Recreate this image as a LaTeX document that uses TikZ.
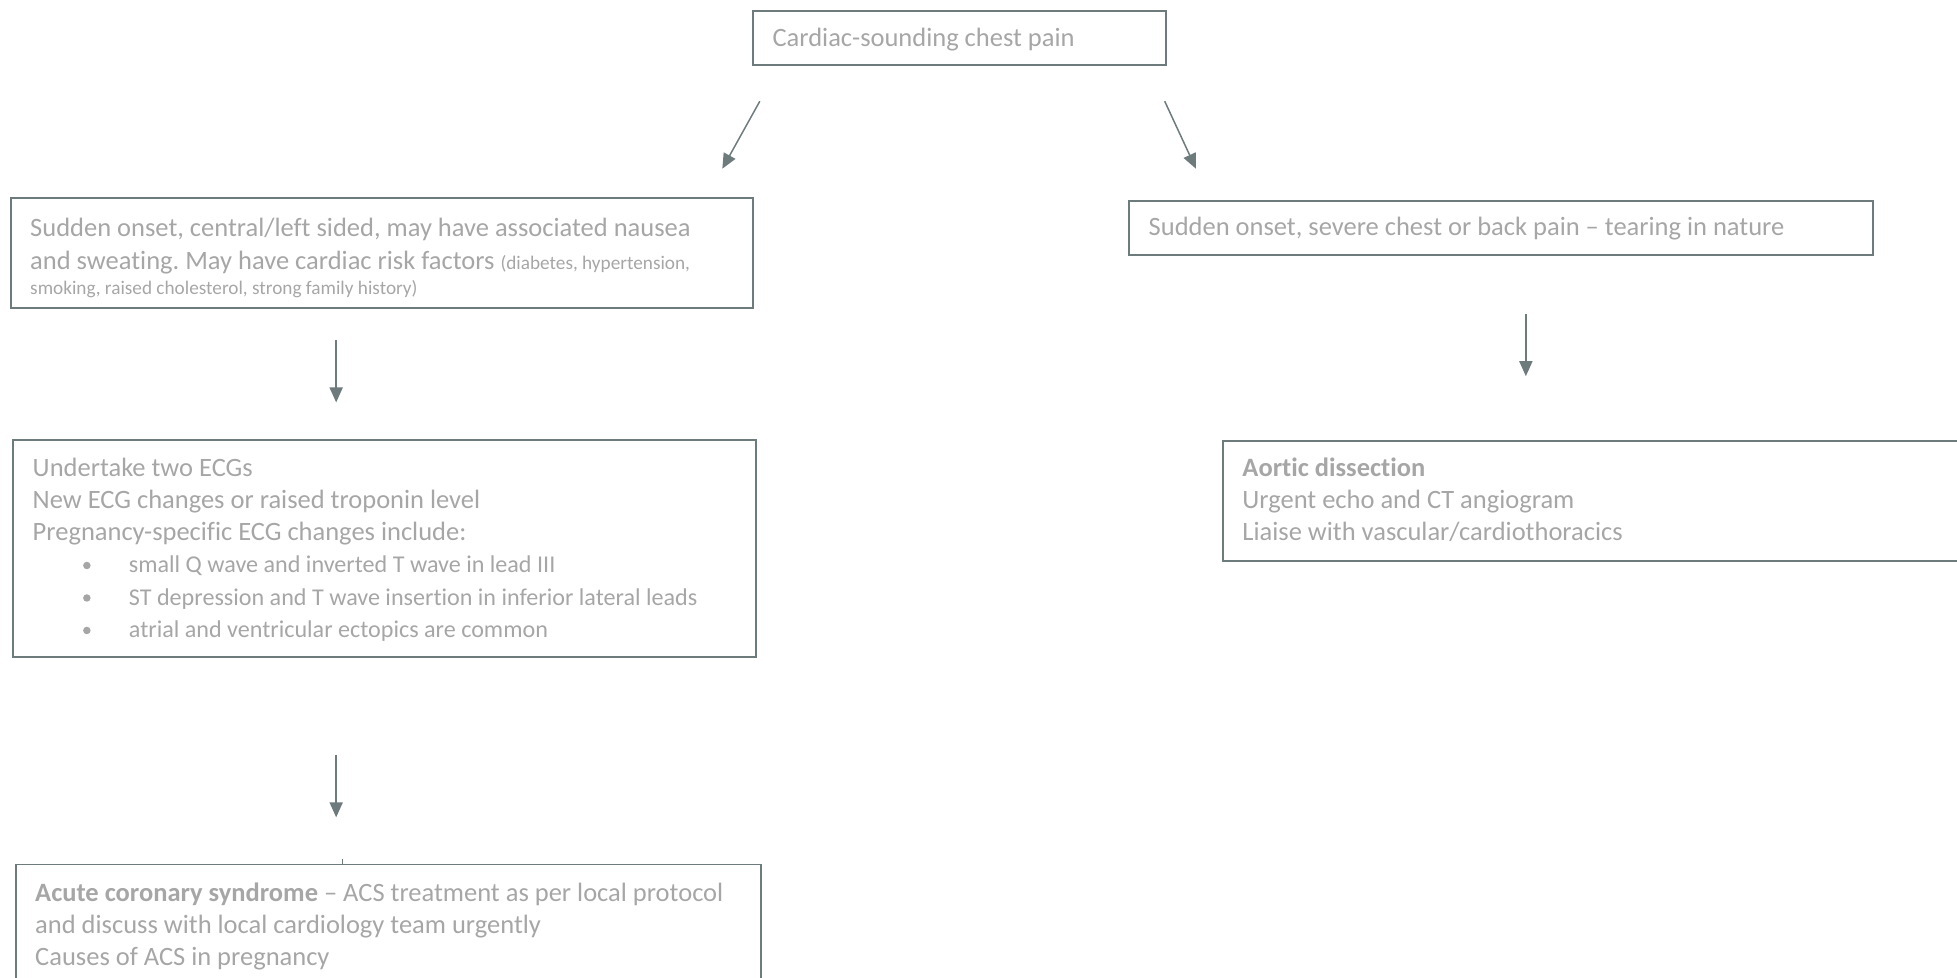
\documentclass[tikz,border=0pt]{standalone}
\usepackage{fontspec}
\setmainfont{Carlito}[Ligatures={NoCommon}]
\usetikzlibrary{arrows.meta}
\definecolor{txtgrey}{HTML}{A6A6A6}
\definecolor{linegrey}{HTML}{6E7B7D}
\frenchspacing
\begin{document}
\begin{tikzpicture}[x=1pt,y=-1pt,
  boxst/.style={draw=linegrey, line width=1.5pt, fill=none, inner sep=0pt, anchor=north west},
  txt/.style={text=txtgrey, inner sep=0pt, anchor=base west, font=\fontsize{21.2}{25.7}\selectfont},
  smalltxt/.style={txt, font=\fontsize{15.4}{19}\selectfont},
  bultxt/.style={txt, font=\fontsize{19.3}{24}\selectfont},
  arr/.style={draw=linegrey, line width=1.2pt, -{Triangle[length=12pt,width=10.5pt]}},
  bul/.style={circle, fill=txtgrey, inner sep=0pt, minimum size=6pt}]
\useasboundingbox (0,0) rectangle (1566,782);
\clip (0,0) rectangle (1566,782);
% boxes
\node[boxst, minimum width=330pt, minimum height=43pt] (start) at (602,8) {};
\node[boxst, minimum width=594pt, minimum height=88pt] (acsin) at (8,158) {};
\node[boxst, minimum width=594pt, minimum height=174pt] (ecg) at (10,351) {};
\node[boxst, minimum width=596pt, minimum height=120pt] (acs) at (12,691) {};
\node[boxst, minimum width=595pt, minimum height=43pt] (adin) at (903,160) {};
\node[boxst, minimum width=620pt, minimum height=96pt] (ad) at (978,352) {};
% texts
\node[txt] (t0) at (618,37.5) {Cardiac-sounding chest pain};
\node[txt] (t1a) at (24,189.5) {Sudden onset, central/left sided, may have associated nausea};
\node[txt] (t1b) at (24,215.5) {and sweating. May have cardiac risk factors {\fontsize{15.4}{19}\selectfont(diabetes, hypertension,}};
\node[smalltxt] (t1c) at (24,236) {smoking, raised cholesterol, strong family history)};
\node[txt] (t2a) at (26,381) {Undertake two ECGs};
\node[txt] (t2b) at (26,406.7) {New ECG changes or raised troponin level};
\node[txt] (t2c) at (26,432.4) {Pregnancy-specific ECG changes include:};
\node[bultxt] (t2d) at (103,458.3) {small Q wave and inverted T wave in lead III};
\node[bultxt] (t2e) at (103,484.3) {ST depression and T wave insertion in inferior lateral leads};
\node[bultxt] (t2f) at (103,510.3) {atrial and ventricular ectopics are common};
\node[bul] (b1) at (69.5,452.5) {};
\node[bul] (b2) at (69.5,478.5) {};
\node[bul] (b3) at (69.5,504.5) {};
\node[txt] (t3a) at (28,721.5) {\textbf{Acute coronary syndrome} – ACS treatment as per local protocol};
\node[txt] (t3b) at (28,747.2) {and discuss with local cardiology team urgently};
\node[txt] (t3c) at (28,772.9) {Causes of ACS in pregnancy};
\node[txt] (t4) at (919,188.5) {Sudden onset, severe chest or back pain – tearing in nature};
\node[txt] (t5a) at (994,381) {\textbf{Aortic dissection}};
\node[txt] (t5b) at (994,406.7) {Urgent echo and CT angiogram};
\node[txt] (t5c) at (994,432.4) {Liaise with vascular/cardiothoracics};
% connectors
\coordinate (a1s) at (608,81);
\coordinate (a1e) at (578,135);
\coordinate (a2s) at (932,81);
\coordinate (a2e) at (957,135);
\coordinate (a3s) at (269,272);
\coordinate (a3e) at (269,322);
\coordinate (a4s) at (269,604);
\coordinate (a4e) at (269,654);
\coordinate (a5s) at (1221,251);
\coordinate (a5e) at (1221,301);
\coordinate (tick) at (274,687);
\draw[arr] (a1s) -- (a1e);
\draw[arr] (a2s) -- (a2e);
\draw[arr] (a3s) -- (a3e);
\draw[arr] (a4s) -- (a4e);
\draw[arr] (a5s) -- (a5e);
\draw[draw=linegrey, line width=1pt] (tick) -- (tick |- acs.north);
\end{tikzpicture}
\end{document}
